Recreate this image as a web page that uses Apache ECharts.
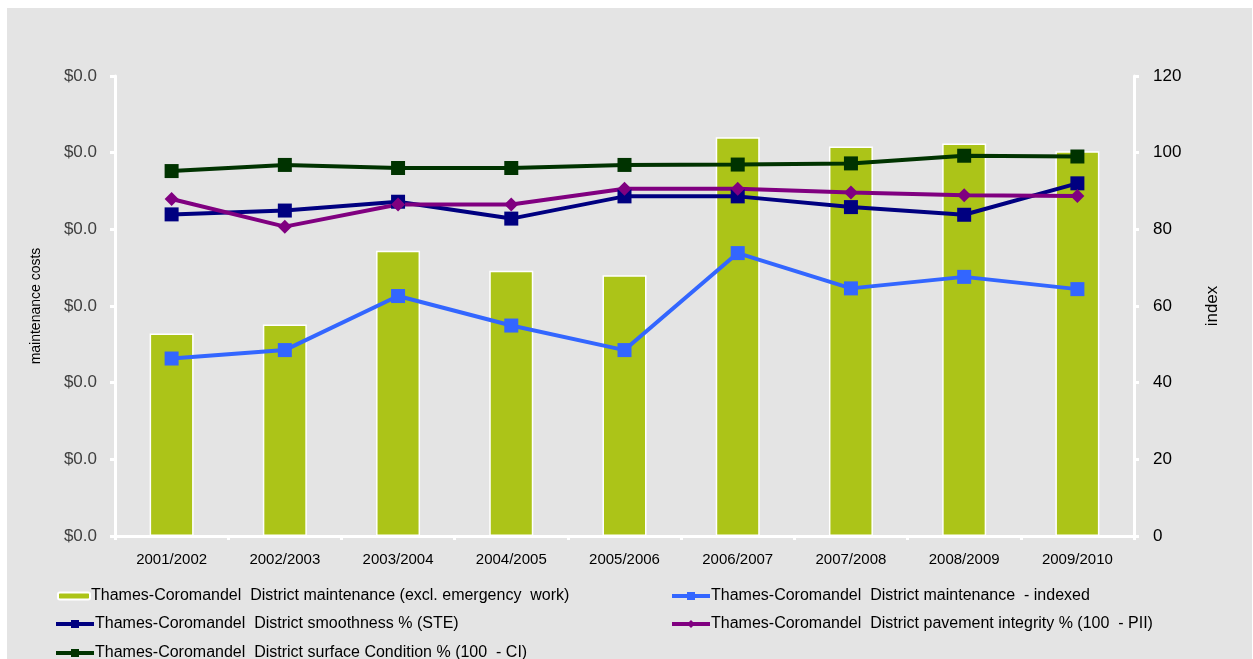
<!DOCTYPE html>
<html>
<head>
<meta charset="utf-8">
<script src="https://cdn.jsdelivr.net/npm/echarts@6/dist/echarts.min.js"></script>
<style>
  html, body { margin: 0; padding: 0; background: #fff; }
  #chart { width: 1253px; height: 659px; }
</style>
</head>
<body>
<div id="chart"></div>
<script>
// 年度
const years = ['2001/2002', '2002/2003', '2003/2004', '2004/2005', '2005/2006', '2006/2007', '2007/2008', '2008/2009', '2009/2010'];
// maintenance costs (left axis, labels all round to $0.0)
const maintenance = [0.0132, 0.0138, 0.0186, 0.0173, 0.0170, 0.0260, 0.0254, 0.0256, 0.0251];
// index series (right axis)
const indexed = [46.3, 48.5, 62.6, 54.9, 48.5, 73.8, 64.6, 67.6, 64.4];
const smoothness = [83.9, 84.9, 87.2, 82.8, 88.6, 88.6, 85.8, 83.8, 92.0];
const pavement = [87.9, 80.7, 86.5, 86.5, 90.6, 90.6, 89.6, 88.9, 88.7];
const surface = [95.2, 96.8, 96.0, 96.0, 96.8, 96.9, 97.2, 99.2, 99.0];

const names = [
  'Thames-Coromandel  District maintenance (excl. emergency  work)',
  'Thames-Coromandel  District maintenance  - indexed',
  'Thames-Coromandel  District smoothness % (STE)',
  'Thames-Coromandel  District pavement integrity % (100  - PII)',
  'Thames-Coromandel  District surface Condition % (100  - CI)'
];

const font = 'Arial, "Liberation Sans", sans-serif';
const axisColor = '#ffffff';

let chart = echarts.init(document.getElementById('chart'));

function lineSeries(name, data, color, symbol, size) {
  return {
    name: name,
    type: 'line',
    yAxisIndex: 1,
    data: data,
    symbol: symbol,
    symbolSize: size,
    lineStyle: { color: color, width: 4 },
    itemStyle: { color: color },
    z: 3
  };
}

// 图例：每项单独放置
function legendItem(name, left, top, w, h) {
  return {
    left: left, top: top,
    padding: 0,
    itemWidth: w, itemHeight: h, itemGap: 0,
    lineStyle: { width: 4 },
    textStyle: { fontSize: 16, color: '#000', fontFamily: font, padding: [0, 0, 0, -4] },
    data: [name]
  };
}

let option = {
  animation: false,
  backgroundColor: '#ffffff',
  textStyle: { fontFamily: font },
  graphic: [{
    type: 'rect',
    left: 7, top: 8,
    shape: { width: 1245, height: 651 },
    style: { fill: '#e4e4e4' },
    z: -10
  }],
  grid: { left: 115, right: 119, top: 76, bottom: 123, containLabel: false },
  legend: [
    legendItem(names[0], 57, 588, 32, 7),
    legendItem(names[2], 54, 616, 38, 10),
    legendItem(names[4], 54, 645, 38, 10),
    legendItem(names[1], 670, 588, 38, 10),
    legendItem(names[3], 670, 616, 38, 10)
  ],
  xAxis: {
    type: 'category',
    data: years,
    axisLine: { lineStyle: { color: axisColor, width: 3 } },
    axisTick: { show: true, length: 4, lineStyle: { color: axisColor, width: 3 } },
    axisLabel: { color: '#000', fontSize: 15, margin: 16 },
    splitLine: { show: false }
  },
  yAxis: [{
    type: 'value',
    min: 0, max: 0.03, interval: 0.005,
    name: 'maintenance costs',
    nameLocation: 'middle',
    nameGap: 72,
    nameTextStyle: { color: '#000', fontSize: 14 },
    axisLine: { show: true, lineStyle: { color: axisColor, width: 3 } },
    axisTick: { show: true, length: 5, lineStyle: { color: axisColor, width: 3 } },
    axisLabel: { color: '#404040', fontSize: 17, margin: 18, formatter: v => '$' + v.toFixed(1) },
    splitLine: { show: false }
  }, {
    type: 'value',
    min: 0, max: 120, interval: 20,
    name: 'index',
    nameLocation: 'middle',
    nameGap: 70,
    nameTextStyle: { color: '#000', fontSize: 17 },
    axisLine: { show: true, lineStyle: { color: axisColor, width: 3 } },
    axisTick: { show: true, length: 5, lineStyle: { color: axisColor, width: 3 } },
    axisLabel: { color: '#000', fontSize: 17, margin: 19 },
    splitLine: { show: false }
  }],
  series: [
    {
      name: names[0],
      type: 'bar',
      yAxisIndex: 0,
      data: maintenance,
      barWidth: 44,
      itemStyle: { color: '#acc418', borderColor: '#ffffff', borderWidth: 1.5 },
      z: 1
    },
    lineSeries(names[1], indexed, '#3366ff', 'rect', 14),
    lineSeries(names[2], smoothness, '#000080', 'rect', 14),
    lineSeries(names[3], pavement, '#800080', 'diamond', 14),
    lineSeries(names[4], surface, '#003300', 'rect', 14)
  ]
};

chart.setOption(option);
window.addEventListener('resize', function () {
  chart.resize();
});
</script>
</body>
</html>
